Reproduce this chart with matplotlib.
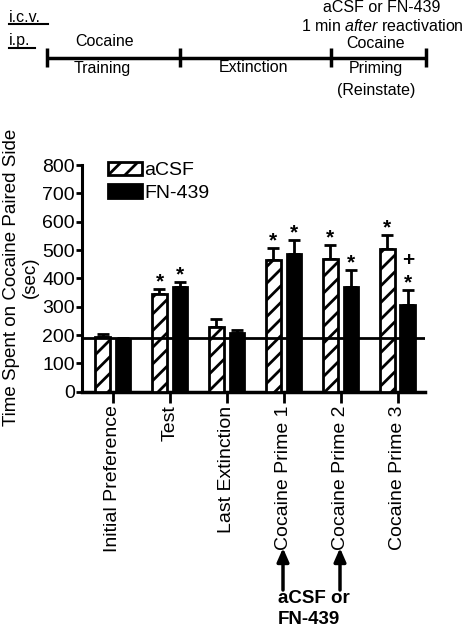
import matplotlib
matplotlib.use("Agg")
import matplotlib.pyplot as plt
import numpy as np

plt.rcParams['font.family'] = ['Liberation Sans', 'DejaVu Sans']
plt.rcParams['mathtext.fontset'] = 'custom'
plt.rcParams['mathtext.rm'] = 'Liberation Sans'
plt.rcParams['mathtext.it'] = 'Liberation Sans:italic'
plt.rcParams['hatch.linewidth'] = 2.0

# data
categories = ['Initial Preference', 'Test', 'Last Extinction',
              'Cocaine Prime 1', 'Cocaine Prime 2', 'Cocaine Prime 3']
acsf_mean = [194, 345, 229, 463, 470, 505]
acsf_sem = [11, 18, 28, 44, 49, 47]
fn_mean = [183, 370, 206, 487, 370, 305]
fn_sem = [8, 17, 12, 48, 61, 54]
acsf_marks = ['', '*', '', '*', '*', '*']
fn_marks = ['', '*', '', '*', '*', '*']
fn_plus = ['', '', '', '', '', '+']
baseline = 191

W, H = 466, 627
fig = plt.figure(figsize=(W / 100, H / 100), dpi=100)

ax = fig.add_axes([82 / W, 1 - 391.7 / H, (425 - 82) / W, (391.7 - 165) / H])
x = np.arange(len(categories))
bw = 0.26
off = 0.18

ax.bar(x - off, acsf_mean, bw, color='white', edgecolor='black',
       hatch='//', linewidth=2, label='aCSF', zorder=3)
ax.bar(x + off, fn_mean, bw, color='black', edgecolor='black',
       linewidth=2, label='FN-439', zorder=3)
ax.errorbar(x - off, acsf_mean, yerr=[np.zeros(6), acsf_sem], fmt='none',
            ecolor='black', elinewidth=2, capsize=4, capthick=2, zorder=2)
ax.errorbar(x + off, fn_mean, yerr=[np.zeros(6), fn_sem], fmt='none',
            ecolor='black', elinewidth=2, capsize=4, capthick=2, zorder=2)
ax.axhline(baseline, color='black', lw=2, zorder=4)

for i in range(len(categories)):
    if acsf_marks[i]:
        ax.annotate(acsf_marks[i], (x[i] - off, acsf_mean[i] + acsf_sem[i]),
                    xytext=(0, 1), textcoords='offset points', ha='center',
                    va='baseline', fontsize=15, fontweight='bold')
    if fn_marks[i]:
        ax.annotate(fn_marks[i], (x[i] + off, fn_mean[i] + fn_sem[i]),
                    xytext=(0, 1), textcoords='offset points', ha='center',
                    va='baseline', fontsize=15, fontweight='bold')
    if fn_plus[i]:
        ax.annotate(fn_plus[i], (x[i] + off, fn_mean[i] + fn_sem[i]),
                    xytext=(0, 17), textcoords='offset points', ha='center',
                    va='baseline', fontsize=15, fontweight='bold')

ax.set_xlim(-0.54, 5.48)
ax.set_ylim(0, 800)
ax.set_yticks(np.arange(0, 801, 100))
ax.set_xticks(x)
ax.set_xticklabels(categories, rotation=90, fontsize=14)
ax.tick_params(axis='y', labelsize=14, length=4, width=2, pad=1)
ax.tick_params(axis='x', length=8, width=2, pad=2)
for s in ['top', 'right']:
    ax.spines[s].set_visible(False)
ax.spines['left'].set_linewidth(2.2)
ax.spines['bottom'].set_linewidth(2.5)

ax.legend(loc='upper left', bbox_to_anchor=(0.077, 1.015), frameon=False,
          fontsize=14, handlelength=1.75, handleheight=0.7, handletextpad=0.1,
          labelspacing=0.25, borderpad=0, borderaxespad=0)

fig.text(21 / W, 1 - 277 / H, 'Time Spent on Cocaine Paired Side\n(sec)',
         rotation=90, ha='center', va='center', fontsize=13.5,
         multialignment='center', linespacing=1.15)

# overlay in pixel coordinates for the timeline and arrows
ov = fig.add_axes([0, 0, 1, 1], zorder=-1)
ov.set_xlim(0, W)
ov.set_ylim(H, 0)
ov.axis('off')

ov.plot([47, 426], [58, 58], color='black', lw=2.5, solid_capstyle='butt')
for tx in [47, 180, 331, 426]:
    ov.plot([tx, tx], [48, 67], color='black', lw=2.5, solid_capstyle='butt')

fs = 11.5
ov.text(9, 17, 'i.c.v.', fontsize=fs, ha='left', va='center')
ov.plot([9, 48], [24, 24], color='black', lw=1.5)
ov.text(9, 41, 'i.p.', fontsize=fs, ha='left', va='center')
ov.plot([9, 35], [48, 48], color='black', lw=1.5)
ov.text(105, 42, 'Cocaine', fontsize=fs, ha='center', va='center')
ov.text(102, 69, 'Training', fontsize=fs, ha='center', va='center')
ov.text(253, 68, 'Extinction', fontsize=fs, ha='center', va='center')
ov.text(382, 7, 'aCSF or FN-439', fontsize=fs, ha='center', va='center')
ov.text(382, 26, r'1 min $\it{after}$ reactivation', fontsize=fs,
        ha='center', va='center')
ov.text(376, 44, 'Cocaine', fontsize=fs, ha='center', va='center')
ov.text(376, 68, 'Priming', fontsize=fs, ha='center', va='center')
ov.text(376, 91, '(Reinstate)', fontsize=fs, ha='center', va='center')

for ax_x in [283, 340]:
    ov.annotate('', xy=(ax_x, 548), xytext=(ax_x, 590),
                arrowprops=dict(arrowstyle='-|>,head_length=0.8,head_width=0.35',
                                color='black', lw=2.5, shrinkA=0, shrinkB=0))
ov.text(278, 603, 'aCSF or', fontsize=13.5, fontweight='bold', ha='left',
        va='baseline')
ov.text(278, 624, 'FN-439', fontsize=13.5, fontweight='bold', ha='left',
        va='baseline')

fig.savefig('out.png', dpi=100)
